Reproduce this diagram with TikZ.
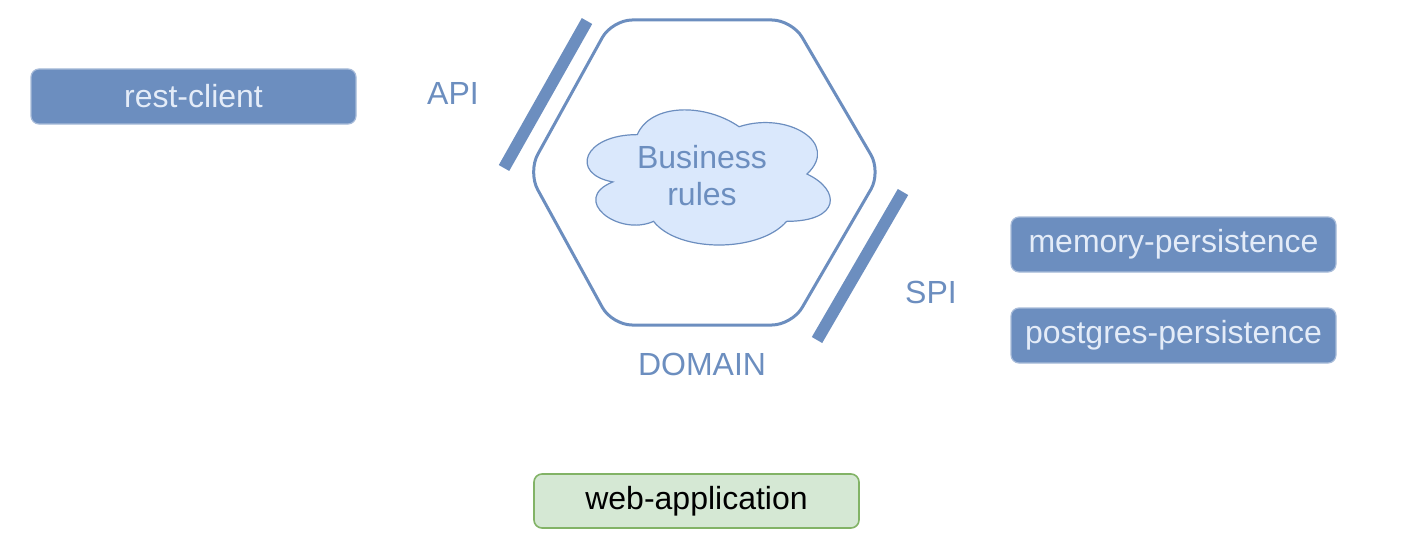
\documentclass[tikz,border=0pt]{standalone}
\usepackage{fontspec}
\setmainfont{Liberation Sans}
\definecolor{bluedark}{HTML}{6C8EBF}
\definecolor{bluelight}{HTML}{DAE8FC}
\definecolor{greenfill}{HTML}{D5E8D4}
\definecolor{greenline}{HTML}{82B366}
\definecolor{boxtext}{HTML}{E4ECF8}
\tikzset{
  bluebox/.style={draw=bluedark!60!white, line width=0.6pt, fill=bluedark, rounded corners=4pt,
    minimum width=162.5pt, minimum height=27.5pt, inner sep=0pt, text=boxtext, font=\fontsize{16}{19}\selectfont},
  greenbox/.style={draw=greenline, line width=0.8pt, fill=greenfill, rounded corners=4pt,
    minimum width=162.5pt, minimum height=27pt, inner sep=0pt, text=black, font=\fontsize{16}{19}\selectfont},
  lbl/.style={text=bluedark, font=\fontsize{16}{19}\selectfont, inner sep=0pt},
  bar/.style={draw=bluedark, line width=6pt},
  cloudline/.style={draw=bluedark, line width=0.6pt, fill=bluelight},
}
\begin{document}
\begin{tikzpicture}[x=0.5pt,y=-0.5pt]
\useasboundingbox (0,0) rectangle (1412,556);
% hexagon
\coordinate (h1) at (612,20);
\coordinate (h2) at (792,20);
\coordinate (h3) at (881,172);
\coordinate (h4) at (792,325);
\coordinate (h5) at (612,325);
\coordinate (h6) at (528,172);
\draw[draw=bluedark, line width=1.5pt, rounded corners=10pt] (h1) -- (h2) -- (h3) -- (h4) -- (h5) -- (h6) -- cycle;
% cloud (draw.io cloud outline)
\begin{scope}[shift={(569.4,95.2)}, xscale=271.5, yscale=157.7]
\draw[cloudline] (0.25,0.25)
  .. controls (0.05,0.25) and (0,0.5) .. (0.16,0.55)
  .. controls (0,0.66) and (0.18,0.9) .. (0.31,0.8)
  .. controls (0.4,1) and (0.7,1) .. (0.8,0.8)
  .. controls (1,0.8) and (1,0.6) .. (0.875,0.5)
  .. controls (1,0.3) and (0.8,0.1) .. (0.625,0.2)
  .. controls (0.5,0.05) and (0.3,0.05) .. (0.25,0.25) -- cycle;
\end{scope}
\node[lbl, align=center, font=\fontsize{16}{18.5}\selectfont] (biz) at (702,176) {Business\\rules};
% bars
\coordinate (a1) at (587,21);
\coordinate (a2) at (504,168);
\draw[bar] (a1) -- (a2);
\coordinate (s1) at (903,192);
\coordinate (s2) at (817,340);
\draw[bar] (s1) -- (s2);
% labels
\node[lbl] (api) at (453,93) {API};
\node[lbl] (spi) at (931,292) {SPI};
\node[lbl] (domain) at (702,364) {DOMAIN};
% boxes
\node[bluebox] (rest) at (193.5,96.5) {rest-client};
\node[bluebox] (mem) at (1173.5,244.5) {memory-persistence};
\node[bluebox] (pg) at (1173.5,335.5) {postgres-persistence};
\node[greenbox] (web) at (696.5,501) {web-application};
\end{tikzpicture}
\end{document}
